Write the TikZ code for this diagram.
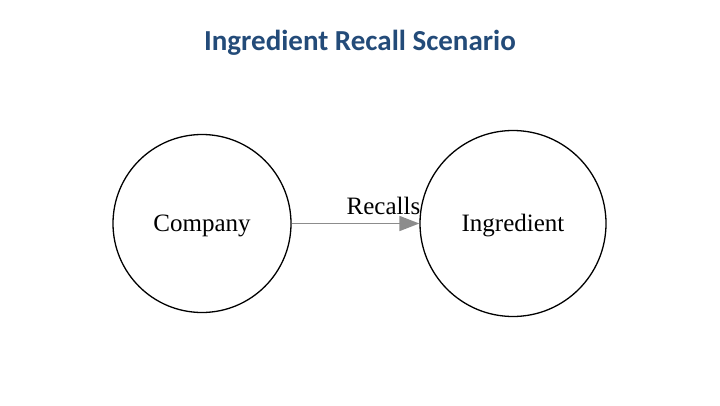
\documentclass[tikz,border=0pt]{standalone}
\usepackage{fontspec}
\setmainfont{Liberation Serif}
\newfontfamily\titlefont{Carlito}
\usetikzlibrary{arrows.meta}
\definecolor{titleblue}{HTML}{234B79}
\definecolor{edgegray}{HTML}{8C8C8C}
\begin{document}
\begin{tikzpicture}[x=1pt,y=1pt,
  entity/.style={circle,draw=black,line width=1.3pt,inner sep=0pt,text height=22pt,text depth=5.5pt,font=\fontsize{25}{28}\selectfont},
  rel/.style={draw=edgegray,line width=1.8pt,-{Triangle[length=20pt,width=15pt]}},
  rellabel/.style={font=\fontsize{25}{28}\selectfont,anchor=base,inner sep=0pt}]
\useasboundingbox (0,0) rectangle (720,405);
\node[font=\titlefont\bfseries\fontsize{29}{33}\selectfont,text=titleblue] (title) at (360,362) {Ingredient Recall Scenario};
\node[entity,minimum size=178pt] (company) at (202,181.5) {Company};
\node[entity,minimum size=186pt] (ingredient) at (513,181.5) {Ingredient};
\draw[rel] (company) -- (ingredient);
\node[rellabel] (recalls) at (383.5,191) {Recalls};
\end{tikzpicture}
\end{document}
